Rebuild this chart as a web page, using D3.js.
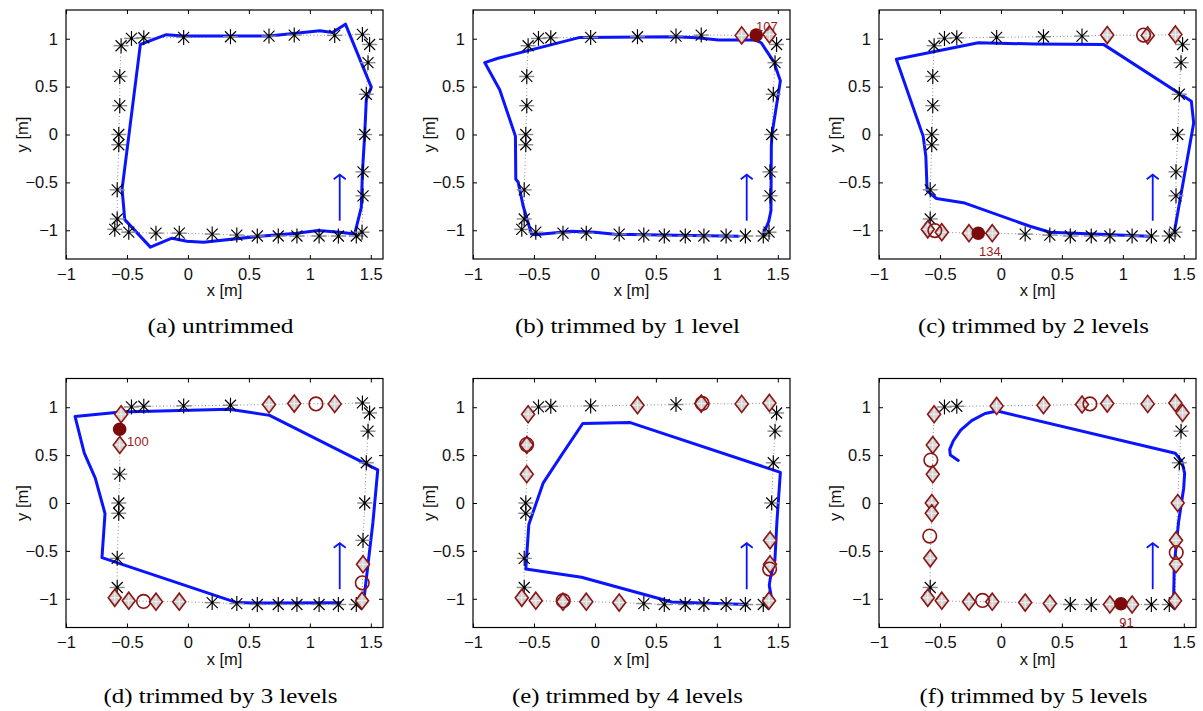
<!DOCTYPE html>
<html><head><meta charset="utf-8">
<script src="https://cdn.jsdelivr.net/npm/d3@7"></script>
<style>body{margin:0;background:#fff}svg{display:block}</style>
</head><body>
<svg id="chart" width="1203" height="711"></svg>
<script>
// ---------------- DATA ----------------
const xTicks = [-1, -0.5, 0, 0.5, 1, 1.5];
const yTicks = [-1, -0.5, 0, 0.5, 1];
const xLabel = "x [m]";
const yLabel = "y [m]";
const captions = ["(a) untrimmed", "(b) trimmed by 1 level", "(c) trimmed by 2 levels",
                  "(d) trimmed by 3 levels", "(e) trimmed by 4 levels", "(f) trimmed by 5 levels"];

// landmark (ground-truth) positions, in driving order
const landmarks = [
  [-0.60,-0.99],[-0.485,-1.02],[-0.262,-1.03],[-0.071,-1.03],[0.199,-1.04],[0.401,-1.05],[0.569,-1.06],
  [0.741,-1.06],[0.894,-1.06],[1.076,-1.06],[1.234,-1.06],[1.381,-1.06],[1.428,-1.02],
  [1.436,-0.64],[1.436,-0.39],[1.45,0.0],[1.463,0.42],[1.477,0.75],[1.49,0.94],[1.431,1.045],
  [1.204,1.035],[0.872,1.038],[0.665,1.028],[0.349,1.021],[-0.035,1.014],[-0.362,1.01],[-0.463,1.003],[-0.548,0.927],
  [-0.559,0.606],[-0.559,0.301],[-0.567,0.0],[-0.567,-0.107],[-0.58,-0.578],[-0.58,-0.882]
];

// driving direction arrow
const arrowX = [1.245, 1.245];
const arrowY = [-0.9, -0.42];

// estimated trajectories
const pathA = [[1.368,-1.038],[1.422,-0.761],[1.431,-0.398],[1.45,0],[1.463,0.363],[1.504,0.495],[1.292,1.152],
  [1.185,1.066],[1.082,1.083],[0.864,1.055],[0.665,1.028],[-0.035,1.028],[-0.177,1.042],[-0.39,0.941],
  [-0.54,-0.571],[-0.518,-0.889],[-0.308,-1.176],[-0.131,-1.083],[-0.008,-1.114],[0.128,-1.125],
  [0.591,-1.062],[0.891,-1.031],[1.068,-1.003],[1.245,-1.021],[1.368,-1.038]];
const pathB = [[1.384,-1.031],[1.425,-0.91],[1.444,-0.796],[1.447,-0.121],[1.452,0],[1.521,0.561],[1.466,0.761],
  [1.364,0.958],[1.315,0.986],[1.014,0.986],[0.836,1.01],[0.658,1.021],[-0.123,1.014],[-0.795,0.796],
  [-0.904,0.751],[-0.781,0.467],[-0.652,-0.017],[-0.649,-0.467],[-0.63,-0.495],[-0.589,-0.744],
  [-0.521,-1.038],[-0.493,-1.048],[-0.192,-1.01],[0,-1.021],[0.164,-1.042],[1.178,-1.062]];
const pathC = [[1.422,-1.021],[1.581,0.121],[1.562,0.346],[0.841,0.941],[0.279,0.945],[-0.186,0.958],
  [-0.858,0.785],[-0.638,-0.017],[-0.616,-0.225],[-0.605,-0.588],[-0.529,-0.668],[-0.296,-0.716],
  [0.238,-0.958],[0.403,-1.021],[1.211,-1.062]];
const pathD = [[1.444,-1.0],[1.517,-0.208],[1.557,0.345],[0.67,0.915],[0.34,0.98],[-0.55,0.95],[-0.926,0.904],
  [-0.85,0.52],[-0.76,0.26],[-0.68,-0.11],[-0.705,-0.57],[0.40,-1.04],[0.56,-1.045],[1.247,-1.041]];
const pathE = [[1.452,-1.017],[1.43,-0.86],[1.438,-0.79],[1.476,-0.6],[1.493,-0.19],[1.521,0.32],[0.29,0.84],
  [-0.1,0.83],[-0.274,0.5],[-0.425,0.207],[-0.542,-0.224],[-0.567,-0.69],[-0.11,-0.776],[0.63,-1.034],[1.25,-1.06]];
const pathF = [[1.416,-1.02],[1.422,-0.64],[1.458,-0.19],[1.499,0.155],[1.507,0.31],[1.485,0.431],[1.43,0.52],
  [-0.03,0.96],[-0.13,0.935],[-0.24,0.86],[-0.33,0.76],[-0.39,0.65],[-0.42,0.56],[-0.415,0.5],[-0.35,0.445]];

// trimmed landmarks (indices into landmarks) drawn as diamonds
const diamondsA = [];
const diamondsB = [20,19];
const diamondsC = [21,20,19,0,1,2,3];
const diamondsD = [0,1,2,3,12,13,27,28,22,21,20];
const diamondsE = [0,1,2,3,4,12,13,14,27,28,29,23,21,20,19];
const diamondsF = [0,1,2,3,4,5,8,9,12,13,14,15,18,19,20,21,22,23,24,27,28,29,30,31,32];

// open circles
const circlesA = [];
const circlesB = [];
const circlesC = [[1.17,1.038],[-0.542,-1.003]];
const circlesD = [[-0.364,-1.028],[1.43,-0.834],[1.05,1.035]];
const circlesE = [[-0.26,-1.02],[1.433,-0.69],[-0.56,0.61],[0.88,1.04]];
const circlesF = [[-0.151,-1.017],[1.438,-0.517],[-0.575,0.448],[-0.584,-0.345],[0.73,1.035]];

// filled circles with their numbers
const filledA = [];
const filledB = [[1.323,1.038]];
const filledC = [[-0.186,-1.031]];
const filledD = [[-0.56,0.77]];
const filledE = [];
const filledF = [[0.984,-1.052]];
const filledLabelsA = [];
const filledLabelsB = [{t:"107", p:[1.41,1.13]}];
const filledLabelsC = [{t:"134", p:[-0.09,-1.22]}];
const filledLabelsD = [{t:"100", p:[-0.41,0.64]}];
const filledLabelsE = [];
const filledLabelsF = [{t:"91", p:[1.03,-1.25]}];

// ---------------- LAYOUT ----------------
const W = 317, H = 249;
const cols = [66, 473, 879], rows = [10, 378.5];
const captionWidths = [146, 225, 231, 234, 231, 228];
const BLUE = "#0a14ff", RED = "#8b1414", FILLRED = "#7d0a0a", LABRED = "#9e1b1b";

const panels = [
  {path:pathA, dia:diamondsA, cir:circlesA, fil:filledA, lab:filledLabelsA},
  {path:pathB, dia:diamondsB, cir:circlesB, fil:filledB, lab:filledLabelsB},
  {path:pathC, dia:diamondsC, cir:circlesC, fil:filledC, lab:filledLabelsC},
  {path:pathD, dia:diamondsD, cir:circlesD, fil:filledD, lab:filledLabelsD},
  {path:pathE, dia:diamondsE, cir:circlesE, fil:filledE, lab:filledLabelsE},
  {path:pathF, dia:diamondsF, cir:circlesF, fil:filledF, lab:filledLabelsF}
];

const svg = d3.select("#chart");
const sans = "'Liberation Sans', Arial, Helvetica, sans-serif";
const serif = "'Liberation Serif', 'Times New Roman', serif";
const fmt = d3.format("");

panels.forEach((p, i) => {
  const ox = cols[i % 3], oy = rows[Math.floor(i / 3)];
  const g = svg.append("g").attr("transform", `translate(${ox},${oy})`);
  const x = d3.scaleLinear().domain([-1, 1.6]).range([0, W]);
  const y = d3.scaleLinear().domain([-1.3, 1.3]).range([H, 0]);
  const line = d3.line().x(d => x(d[0])).y(d => y(d[1]));

  // ticks (inward on all four sides)
  const styleAxis = sel => {
    sel.select(".domain").remove();
    sel.selectAll(".tick line").attr("stroke", "#000").attr("stroke-width", 1);
    sel.selectAll("text").style("font-family", sans).style("font-size", "16.5px").attr("fill", "#111");
  };
  g.append("g").attr("transform", `translate(0,${H})`)
    .call(d3.axisBottom(x).tickValues(xTicks).tickFormat(fmt).tickSize(-4).tickSizeOuter(0).tickPadding(9)).call(styleAxis);
  g.append("g")
    .call(d3.axisTop(x).tickValues(xTicks).tickSize(-4).tickSizeOuter(0).tickFormat("")).call(styleAxis);
  g.append("g")
    .call(d3.axisLeft(y).tickValues(yTicks).tickFormat(fmt).tickSize(-4).tickSizeOuter(0).tickPadding(8)).call(styleAxis);
  g.append("g").attr("transform", `translate(${W},0)`)
    .call(d3.axisRight(y).tickValues(yTicks).tickSize(-4).tickSizeOuter(0).tickFormat("")).call(styleAxis);

  // dotted ground-truth connection
  g.append("path").attr("d", line(landmarks.concat([landmarks[0]])))
    .attr("fill", "none").attr("stroke", "#8c8c8c").attr("stroke-width", 1).attr("stroke-dasharray", "1,2.5");

  // estimated trajectory
  g.append("path").attr("d", line(p.path)).attr("fill", "none").attr("stroke", BLUE)
    .attr("stroke-width", 3).attr("stroke-linejoin", "round").attr("stroke-linecap", "round");

  // asterisks (kept landmarks)
  const trimmed = new Set(p.dia);
  const stars = landmarks.filter((d, k) => !trimmed.has(k));
  const sg = g.selectAll(".star").data(stars).join("g")
    .attr("transform", d => `translate(${x(d[0])},${y(d[1])})`);
  sg.append("line").attr("x1", -7.5).attr("x2", 7.5).attr("stroke", "#8a8a8a").attr("stroke-width", 1.4);
  sg.append("line").attr("y1", -7.5).attr("y2", 7.5).attr("stroke", "#000").attr("stroke-width", 1.15);
  sg.append("line").attr("x1", -5.5).attr("y1", -5.5).attr("x2", 5.5).attr("y2", 5.5).attr("stroke", "#000").attr("stroke-width", 1.15);
  sg.append("line").attr("x1", -5.5).attr("y1", 5.5).attr("x2", 5.5).attr("y2", -5.5).attr("stroke", "#000").attr("stroke-width", 1.15);
  sg.append("circle").attr("r", 1.3).attr("fill", "#000");

  // diamonds (trimmed landmarks)
  const dg = g.selectAll(".dia").data(p.dia.map(k => landmarks[k])).join("g")
    .attr("transform", d => `translate(${x(d[0])},${y(d[1])})`);
  dg.append("path").attr("d", "M0,-8.5L6.5,0L0,8.5L-6.5,0Z").attr("fill", "#d0d0d0")
    .attr("stroke", RED).attr("stroke-width", 1.6);
  dg.append("path").attr("d", "M-5,0H5M0,-5V5").attr("stroke", "#f2f2f2").attr("stroke-width", 1);

  // open circles
  g.selectAll(".cir").data(p.cir).join("circle")
    .attr("cx", d => x(d[0])).attr("cy", d => y(d[1])).attr("r", 6.8)
    .attr("fill", "none").attr("stroke", RED).attr("stroke-width", 1.6);

  // filled circles + numbers
  g.selectAll(".fil").data(p.fil).join("circle")
    .attr("cx", d => x(d[0])).attr("cy", d => y(d[1])).attr("r", 6.8).attr("fill", FILLRED);
  g.selectAll(".lab").data(p.lab).join("text")
    .attr("x", d => x(d.p[0])).attr("y", d => y(d.p[1])).attr("dy", "0.35em")
    .attr("text-anchor", "middle").style("font-family", sans).style("font-size", "13px")
    .attr("fill", LABRED).text(d => d.t);

  // direction arrow
  const ax = x(arrowX[0]), ay0 = y(arrowY[0]), ay1 = y(arrowY[1]);
  g.append("line").attr("x1", ax).attr("x2", x(arrowX[1])).attr("y1", ay0).attr("y2", ay1)
    .attr("stroke", BLUE).attr("stroke-width", 1.8);
  g.append("path").attr("d", `M${ax - 6},${ay1 + 4.5}L${ax},${ay1}L${ax + 6},${ay1 + 4.5}`)
    .attr("fill", "none").attr("stroke", BLUE).attr("stroke-width", 1.8);

  // box
  g.append("rect").attr("width", W).attr("height", H).attr("fill", "none")
    .attr("stroke", "#000").attr("stroke-width", 1.2);

  // axis labels
  g.append("text").attr("x", W / 2).attr("y", H + 37).attr("text-anchor", "middle")
    .style("font-family", sans).style("font-size", "16.5px").attr("fill", "#111").text(xLabel);
  g.append("text").attr("transform", `translate(-44,${H / 2}) rotate(-90)`).attr("dy", "0.35em")
    .attr("text-anchor", "middle").style("font-family", sans).style("font-size", "16.5px").attr("fill", "#111").text(yLabel);

  // caption
  g.append("text").attr("x", W / 2 - 4).attr("y", i < 3 ? 323 : 324.5).attr("text-anchor", "middle")
    .style("font-family", serif).style("font-size", "22px").attr("fill", "#000")
    .attr("textLength", captionWidths[i]).attr("lengthAdjust", "spacingAndGlyphs")
    .text(captions[i]);
});
</script>
</body></html>
